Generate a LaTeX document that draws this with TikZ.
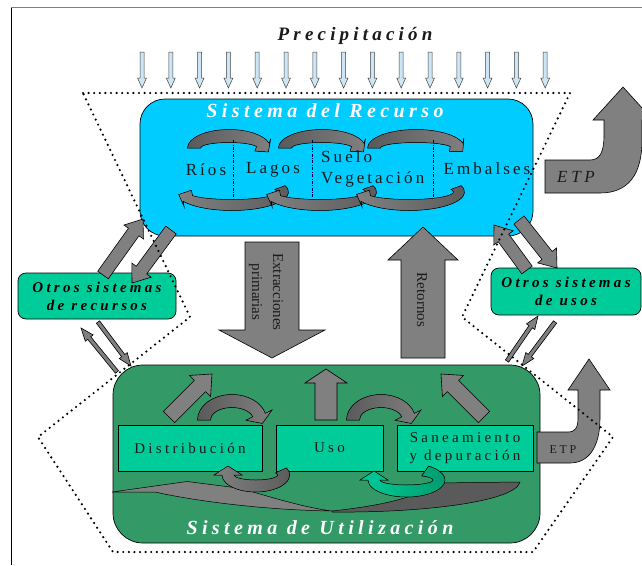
\documentclass[tikz,border=0pt]{standalone}
\usepackage{fontspec}
\setmainfont{Liberation Serif}
\newfontfamily\spwide[LetterSpace=22]{Liberation Serif}
\newfontfamily\spmid[LetterSpace=18]{Liberation Serif}
\newfontfamily\spnone{Liberation Serif}
\definecolor{blueres}{HTML}{00CCFF}
\definecolor{greenuse}{HTML}{339966}
\definecolor{teal1}{HTML}{00CC99}
\definecolor{teal2}{HTML}{00996B}
\definecolor{arrgray}{HTML}{808080}
\definecolor{dkarr}{HTML}{5A5A5A}
\definecolor{rainblue}{HTML}{CCE6F5}
\definecolor{txtdark}{HTML}{1A1A1A}

\tikzset{
  blockarr/.style={fill=arrgray, draw=black, line width=0.6pt, line join=miter},
  rainarr/.style={fill=rainblue, draw=black!75, line width=0.5pt},
  bandtop/.style={draw=black, line width=0.5pt, left color=dkarr, right color=arrgray},
  bandbot/.style={draw=black, line width=0.5pt, left color=arrgray, right color=dkarr},
  bandteal/.style={draw=black, line width=0.5pt, left color=teal1, right color=teal2},
  titletext/.style={text=white, font=\spwide\bfseries\itshape\fontsize{20}{22}\selectfont},
  rtext/.style={text=txtdark, font=\spmid\fontsize{17}{21}\selectfont, inner sep=0pt},
  otrobox/.style={fill=teal1, draw=black, line width=0.7pt, rounded corners=8pt, inner sep=0pt, align=center, text=black, font=\spwide\bfseries\itshape\fontsize{15}{18}\selectfont},
  innerbox/.style={fill=teal1, draw=black, line width=0.6pt, inner sep=0pt, align=center, text=txtdark, font=\spwide\fontsize{15}{17.5}\selectfont},
  sepline/.style={draw=black!70!blue, line width=0.6pt, dash pattern=on 3pt off 1.5pt on 0.8pt off 1.5pt},
  dotline/.style={draw=black, line width=2.4pt, dash pattern=on 0pt off 5.6pt, line cap=round},
  bigbox/.style={draw=black, line width=0.7pt, inner sep=0pt}
}

\newcommand{\BlockArrow}[8][blockarr]{%
  \pgfmathsetmacro\BAdx{(#4-#2)/100}%
  \pgfmathsetmacro\BAdy{(#5-#3)/100}%
  \pgfmathsetmacro\BAln{sqrt(\BAdx*\BAdx+\BAdy*\BAdy)}%
  \pgfmathsetmacro\BAux{\BAdx/\BAln}%
  \pgfmathsetmacro\BAuy{\BAdy/\BAln}%
  \pgfmathsetmacro\BAhx{#4-#8*\BAux}%
  \pgfmathsetmacro\BAhy{#5-#8*\BAuy}%
  \filldraw[#1] ({#2-#6*\BAuy},{#3+#6*\BAux}) -- ({\BAhx-#6*\BAuy},{\BAhy+#6*\BAux}) -- ({\BAhx-#7*\BAuy},{\BAhy+#7*\BAux}) -- (#4,#5) -- ({\BAhx+#7*\BAuy},{\BAhy-#7*\BAux}) -- ({\BAhx+#6*\BAuy},{\BAhy-#6*\BAux}) -- ({#2+#6*\BAuy},{#3-#6*\BAux}) -- cycle;}

\newcommand{\BandArrow}[9][bandtop]{%
  \pgfmathsetmacro\BBrxo{#3+#5/2}\pgfmathsetmacro\BBryo{#4+#5/2}%
  \pgfmathsetmacro\BBrxi{#3-#5/2}\pgfmathsetmacro\BBryi{#4-#5/2}%
  \pgfmathsetmacro\BBsg{(#7>#6)?1:-1}%
  \pgfmathsetmacro\BBtx{-#3*sin(#7)/10}%
  \pgfmathsetmacro\BBty{#4*cos(#7)/10}%
  \pgfmathsetmacro\BBtn{sqrt(\BBtx*\BBtx+\BBty*\BBty)}%
  \pgfmathsetmacro\BBbx{#3*cos(#7)}\pgfmathsetmacro\BBby{#4*sin(#7)}%
  \pgfmathsetmacro\BBox{\BBbx+#8*\BBty/\BBtn}\pgfmathsetmacro\BBoy{\BBby-#8*\BBtx/\BBtn}%
  \pgfmathsetmacro\BBix{\BBbx-#8*\BBty/\BBtn}\pgfmathsetmacro\BBiy{\BBby+#8*\BBtx/\BBtn}%
  \pgfmathsetmacro\BBpx{\BBbx+\BBsg*#9*\BBtx/\BBtn}\pgfmathsetmacro\BBpy{\BBby+\BBsg*#9*\BBty/\BBtn}%
  \begin{scope}[shift={(#2)}]
    \filldraw[#1] ({\BBrxo*cos(#6)},{\BBryo*sin(#6)}) arc[start angle=#6,end angle=#7,x radius=\BBrxo,y radius=\BBryo] -- (\BBox,\BBoy) -- (\BBpx,\BBpy) -- (\BBix,\BBiy) -- ({\BBrxi*cos(#7)},{\BBryi*sin(#7)}) arc[start angle=#7,end angle=#6,x radius=\BBrxi,y radius=\BBryi] -- cycle;
  \end{scope}}

\begin{document}
\begin{tikzpicture}[x=1pt,y=-1pt]
\useasboundingbox (0,0) rectangle (642,565);

% frame
\coordinate (fTL) at (11,7);
\coordinate (fBL) at (11,565);
\coordinate (fTR) at (642,7);
\draw[line width=0.9pt] (fBL) -- (fTL);
\draw[line width=0.9pt, gray] (fTL) -- (fTR);

% precipitation
\node[text=txtdark, font=\spwide\bfseries\itshape\fontsize{19}{21}\selectfont] (precip) at (355,36) {Precipitación};
\foreach \i in {0,...,14}{
  \pgfmathsetmacro\rxx{142+28.8*\i}
  \BlockArrow[rainarr]{\rxx}{52}{\rxx}{88}{2}{4.5}{10}
}

% resource system
\node[bigbox, fill=blueres, rounded corners=25pt, minimum width=393pt, minimum height=137pt] (recurso) at (336.5,167.5) {};
\node[titletext] (rectitle) at (325,111) {Sistema del Recurso};

\BandArrow[bandtop]{229,148}{35}{12}{13}{180}{345}{10}{9}
\BandArrow[bandtop]{322,148}{37}{12}{13}{180}{345}{10}{9}
\BandArrow[bandtop]{416,148}{42}{12}{13}{180}{345}{10}{9}
\BandArrow[bandbot]{232,192}{51}{13}{11}{-20}{150}{9}{10}
\BandArrow[bandbot]{320,192}{51}{13}{11}{-20}{150}{9}{10}
\BandArrow[bandbot]{409,192}{50}{13}{11}{-20}{150}{9}{10}

\draw[sepline] (233,140) -- (233,197);
\draw[sepline] (312,140) -- (312,197);
\draw[sepline] (433,140) -- (433,197);

\node[rtext] (rios) at (206,170) {Ríos};
\node[rtext] (lagos) at (273,170) {Lagos};
\node[rtext, align=left, anchor=west] (suelo) at (321,169) {Suelo\\Vegetación};
\node[rtext] (embalses) at (487,169) {Embalses};

% other systems
\node[otrobox, minimum width=158pt, minimum height=46pt] (otrosrec) at (97,296) {Otros sistemas\\de recursos};
\node[otrobox, minimum width=150pt, minimum height=47pt] (otrosuso) at (566,291.5) {Otros sistemas\\de usos};

\BlockArrow{103}{275}{143}{219}{6.5}{12}{16}
\BlockArrow{171}{230}{132}{283}{6.5}{12}{16}
\BlockArrow{527}{270}{494}{225}{6.5}{12}{16}
\BlockArrow{519}{220}{557}{268}{6.5}{12}{16}
\BlockArrow{117}{372}{81}{328}{2}{5}{13}
\BlockArrow{98}{322}{131}{366}{2}{5}{13}
\BlockArrow{507}{361}{538}{316}{2}{5}{13}
\BlockArrow{555}{322}{522}{366}{2}{5}{13}

% extractions / returns
\BlockArrow{272}{242}{272}{358}{27}{53}{28}
\BlockArrow{423}{358}{423}{227}{22}{35}{33}
\node[rotate=-90, text=txtdark, align=center, font=\spnone\fontsize{15}{21}\selectfont] (extr) at (266,292) {Extracciones\\primarias};
\node[rotate=-90, text=txtdark, font=\spnone\fontsize{15}{18}\selectfont] (ret) at (422,300) {Retornos};

% upper ETP
\filldraw[blockarr] (545,160) -- (590,160) .. controls (600,160) and (604,152) .. (604,135) -- (604,120) -- (593,120) -- (623,87) -- (653,120) -- (642,120) -- (642,140) .. controls (642,175) and (628,193) .. (600,193) -- (545,193) -- cycle;
\node[text=txtdark, font=\spwide\itshape\fontsize{17}{20}\selectfont] (etp1) at (576,177) {ETP};

% utilization system
\node[bigbox, fill=greenuse, rounded corners=30pt, minimum width=427pt, minimum height=178pt] (utiliz) at (326.5,454) {};

\filldraw[fill=arrgray, draw=black, line width=0.5pt] (112,492) -- (187,481.5) -- (238,488) .. controls (262,494) and (300,507) .. (332,511) .. controls (260,510) and (190,500) .. (155,492) -- cycle;
\filldraw[fill=dkarr, draw=black, line width=0.5pt] (332,511) .. controls (380,506) and (420,497) .. (435,483) -- (520,482) .. controls (515,502) and (420,513) .. (332,512) -- cycle;

\node[innerbox, minimum width=144pt, minimum height=46pt] (distr) at (190,448) {Distribución};
\node[innerbox, minimum width=107pt, minimum height=46pt] (uso) at (329.5,448) {Uso};
\node[innerbox, minimum width=136pt, minimum height=46pt] (sanea) at (465,448) {Saneamiento\\y depuración};

\BlockArrow{169}{417}{212}{374}{8}{15}{17}
\BlockArrow{326}{420}{326}{369}{11}{21}{14}
\BlockArrow{484}{417}{441}{374}{8}{15}{17}

\BandArrow[bandtop]{232,420}{28}{19}{13}{180}{345}{14}{9}
\BandArrow[bandtop]{381,420}{28}{19}{13}{180}{345}{14}{9}
\BandArrow[bandbot]{255.8,475}{27.8}{11}{12}{-25}{180}{14}{9}
\BandArrow[bandteal]{406.5,480}{32.5}{11}{12}{-55}{180}{14}{9}

\node[titletext] (utiltitle) at (320,528) {Sistema de Utilización};

% lower ETP
\filldraw[blockarr] (537,432) -- (568,432) .. controls (575,432) and (578,428) .. (578,418) -- (578,390) -- (568,390) -- (589,359) -- (610,390) -- (600,390) -- (600,418) .. controls (600,448) and (588,463) .. (570,463) -- (537,463) -- cycle;
\node[text=txtdark, font=\spwide\fontsize{12}{14}\selectfont] (etp2) at (563,450) {ETP};

% dotted boundary
\draw[dotline] (83,93) -- (570,93) -- (462,317) -- (613,437) -- (533,552) -- (113,552) -- (38,437) -- (190,317) -- cycle;
\end{tikzpicture}
\end{document}
